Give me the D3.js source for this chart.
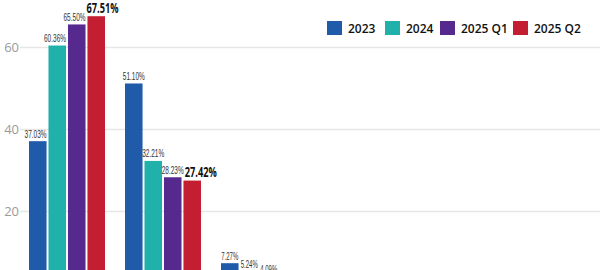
<!DOCTYPE html>
<html><head><meta charset="utf-8">
<script src="https://cdn.jsdelivr.net/npm/d3@7"></script>
<style>body{margin:0;background:#fff;}svg{display:block;}</style>
</head><body><svg id="c" width="600" height="270"></svg>
<script>
const categories = ["Group A", "Group B", "Group C"];
const seriesNames = ["2023", "2024", "2025 Q1", "2025 Q2"];
const s2023 = [37.03, 51.10, 7.27];
const s2024 = [60.36, 32.21, 5.24];
const s2025q1 = [65.50, 28.23, 4.09];
const s2025q2 = [67.51, 27.42, 2.60];
const yTicks = [20, 40, 60];
const colors = ["#1f5ba8", "#1fb1aa", "#56298f", "#c41e33"];

const series = [s2023, s2024, s2025q1, s2025q2];
const svg = d3.select("#c");
const y = d3.scaleLinear().domain([0, 60]).range([293, 47]);
const x0 = d3.scaleBand().domain(categories).range([9, 317]).paddingInner(0.2083).paddingOuter(0.2083);
const x1 = d3.scaleBand().domain(seriesNames).range([0, x0.bandwidth()]).paddingInner(0.1);
const color = d3.scaleOrdinal().domain(seriesNames).range(colors);

// gridlines + axis
const axis = d3.axisLeft(y).tickValues(yTicks).tickSize(-580).tickPadding(6);
const gA = svg.append("g").attr("transform", "translate(20,0)").call(axis);
gA.select(".domain").remove();
gA.selectAll(".tick line").attr("stroke", "#e6e6e6").attr("stroke-width", 1.5);
gA.selectAll(".tick text").attr("fill", "#9a9a9a").attr("font-family", "Open Sans").attr("font-size", 13).attr("x", -1);

// bars
const groups = svg.append("g").selectAll("g").data(categories).join("g")
  .attr("transform", d => `translate(${x0(d)},0)`);
const rows = categories.map((c, i) => seriesNames.map((s, j) => ({cat: c, s, j, v: series[j][i]})));
groups.each(function(c, i) {
  const g = d3.select(this);
  g.selectAll("rect").data(rows[i]).join("rect")
    .attr("x", d => x1(d.s)).attr("width", x1.bandwidth())
    .attr("y", d => y(d.v)).attr("height", d => y(0) - y(d.v))
    .attr("fill", d => color(d.s));
  let prev = null;
  rows[i].forEach((d, k) => {
    const last = d.j === 3 && d.v > 10;
    const base = y(d.v) - 3.5;
    const h = last ? 10 : 9;
    const t = g.append("text")
      .attr("text-anchor", "start")
      .attr("y", base)
      .attr("font-family", last ? "Open Sans" : "Liberation Sans Narrow, Arial Narrow, sans-serif")
      .attr("font-weight", last ? 700 : 400)
      .attr("font-size", last ? 13.5 : 11)
      .attr("fill", last ? "#111" : "#333")
      .text(d.v.toFixed(2) + "%");
    const w = last ? 32 : (d.v >= 10 ? 22 : 17);
    t.attr("textLength", w).attr("lengthAdjust", "spacingAndGlyphs");
    const next = rows[i][k + 1];
    let left = (next && next.v > d.v)
      ? x1(d.s) + x1.bandwidth() - w
      : x1(d.s) + x1.bandwidth() / 2 - w / 2;
    if (prev && base > prev.base - prev.h && base - h < prev.base && left < prev.right + 1) left = prev.right + 1;
    t.attr("x", left);
    prev = {right: left + w, base, h};
  });
});

// legend
const legX = [327, 385, 440, 513];
const leg = svg.append("g").selectAll("g").data(seriesNames).join("g")
  .attr("transform", (d, i) => `translate(${legX[i]},21)`);
leg.append("rect").attr("width", 15).attr("height", 14).attr("fill", d => color(d));
leg.append("text").attr("x", 21).attr("y", 12).attr("font-family", "Open Sans")
  .attr("font-weight", 600).attr("font-size", 12).attr("fill", "#111").text(d => d);
</script></body></html>
